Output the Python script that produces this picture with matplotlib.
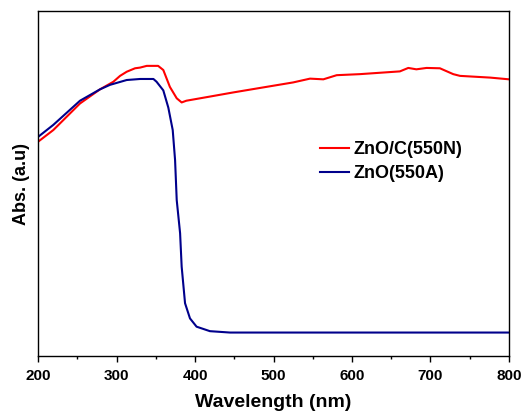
import numpy as np
import matplotlib as mpl
mpl.use('Agg')
import matplotlib.pyplot as plt

# absorbance spectra, wavelength in nm, absorbance in arbitrary units
wl_znoc = [200, 219.5, 253.5, 279, 296, 304.5, 313, 323.6, 330, 338.5, 353,
           359.6, 368, 376.7, 383, 389, 419, 448.7, 482.8, 525, 546.5, 563.5,
           580.5, 610, 661, 671.7, 682, 695, 712, 729, 737.6, 776, 800]
abs_znoc = [0.621, 0.655, 0.732, 0.773, 0.795, 0.812, 0.824, 0.834, 0.836,
            0.841, 0.841, 0.829, 0.780, 0.747, 0.735, 0.740, 0.752, 0.764,
            0.777, 0.793, 0.804, 0.802, 0.814, 0.817, 0.825, 0.835, 0.831,
            0.835, 0.834, 0.817, 0.812, 0.807, 0.802]

wl_zno = [200, 219.5, 253.5, 279, 291.7, 313, 330, 347, 351, 359.6, 366,
          371.6, 374.6, 376.7, 381, 383, 387.3, 393.6, 402, 419, 444.6, 800]
abs_zno = [0.635, 0.670, 0.740, 0.773, 0.786, 0.800, 0.803, 0.803, 0.795,
           0.770, 0.720, 0.655, 0.568, 0.452, 0.356, 0.259, 0.153, 0.109,
           0.085, 0.072, 0.068, 0.068]

labels = ["ZnO/C(550N)", "ZnO(550A)"]
xticks = [200, 300, 400, 500, 600, 700, 800]

plt.rcParams['font.family'] = ['Liberation Sans', 'DejaVu Sans']
plt.rcParams['font.weight'] = 'bold'

fig = plt.figure(figsize=(5.23, 4.11), dpi=100)
ax = fig.add_axes([0.0727, 0.1338, 0.9005, 0.8394])

ax.plot(wl_znoc, abs_znoc, color='#ff0000', lw=1.5, label=labels[0])
ax.plot(wl_zno, abs_zno, color='#00008b', lw=1.5, label=labels[1])

ax.set_xlim(200, 800)
ax.set_ylim(0, 1)
ax.set_xticks(xticks)
ax.set_xticks(np.arange(250, 800, 100), minor=True)
ax.set_yticks([])
ax.tick_params(axis='x', which='major', direction='out', length=4.5, width=1,
               labelsize=11, pad=5)
ax.tick_params(axis='x', which='minor', direction='out', length=2.5, width=1)
for lbl in ax.get_xticklabels():
    lbl.set_fontweight('bold')
for s in ax.spines.values():
    s.set_linewidth(1)

ax.set_xlabel("Wavelength (nm)", fontsize=14, fontweight='bold', labelpad=8)
ax.set_ylabel("Abs. (a.u)", fontsize=13, fontweight='bold', labelpad=6)

ax.legend(loc='center left', bbox_to_anchor=(0.599, 0.564), frameon=False,
          prop={'size': 13, 'weight': 'bold'}, handlelength=1.6,
          handletextpad=0.25, labelspacing=0.38, borderpad=0,
          borderaxespad=0)

fig.savefig("out.png", dpi=100)
